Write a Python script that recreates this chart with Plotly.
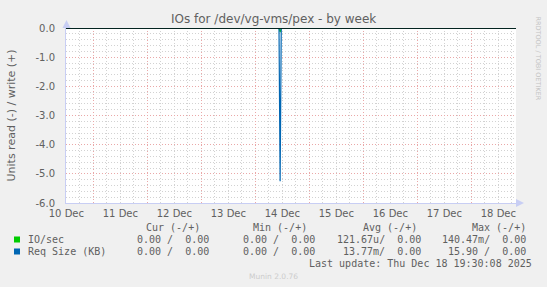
import plotly.graph_objects as go

# ---------------- data ----------------
x_start = "2025-12-10 11:50"
x_end = "2025-12-18 19:50"

read_times = ["2025-12-10 11:50", "2025-12-14 10:30", "2025-12-14 11:00",
              "2025-12-14 11:30", "2025-12-18 19:50"]
io_read = [0.0, 0.0, -0.14, 0.0, 0.0]          # IO/sec (read, negative)
req_read = [0.0, 0.0, -5.25, 0.0, 0.0]         # Req Size KB (read, negative)
write_times = ["2025-12-10 11:50", "2025-12-18 19:50"]
io_write = [0.0, 0.0]
req_write = [0.0, 0.0]

day_label_times = ["2025-12-10 12:00", "2025-12-11 12:00", "2025-12-12 12:00",
                   "2025-12-13 12:00", "2025-12-14 12:00", "2025-12-15 12:00",
                   "2025-12-16 12:00", "2025-12-17 12:00", "2025-12-18 12:00"]
day_labels = ["10 Dec", "11 Dec", "12 Dec", "13 Dec", "14 Dec", "15 Dec",
              "16 Dec", "17 Dec", "18 Dec"]
y_tickvals = [0, -1, -2, -3, -4, -5, -6]
y_ticktext = ["0.0", "-1.0", "-2.0", "-3.0", "-4.0", "-5.0", "-6.0"]

series_names = ["IO/sec", "Req Size (KB)"]
series_colors = ["#00CC00", "#0066B3"]
cur_vals = ["0.00 /  0.00", "0.00 /  0.00"]
min_vals = ["0.00 /  0.00", "0.00 /  0.00"]
avg_vals = ["121.67u/  0.00", "13.77m/  0.00"]
max_vals = ["140.47m/  0.00", "15.90 /  0.00"]
col_headers = ["Cur (-/+)", "Min (-/+)", "Avg (-/+)", "Max (-/+)"]
last_update = "Last update: Thu Dec 18 19:30:08 2025"

# ---------------- layout geometry ----------------
W_IMG, H_IMG = 547, 287
L, T, PW, PH = 66, 28, 450, 175
R = W_IMG - L - PW
B = H_IMG - T - PH

def px_x(p):
    return (p - L) / PW

def px_y(p):
    return (T + PH - p) / PH

def nb(s):
    return s.replace(" ", "\u00a0")

FONT_C = "#606060"
AXIS_C = "#C8CEF4"
MGRID = "#EAA8A8"
GRID = "#D2D2D2"
DASH = "1px,2px"

fig = go.Figure()

fig.add_trace(go.Scatter(x=write_times, y=io_write, mode="lines",
                         line=dict(color=series_colors[0], width=1), showlegend=False, hoverinfo="skip"))
fig.add_trace(go.Scatter(x=write_times, y=req_write, mode="lines",
                         line=dict(color=series_colors[1], width=1), showlegend=False, hoverinfo="skip"))
fig.add_trace(go.Scatter(x=read_times, y=io_read, mode="lines",
                         line=dict(color=series_colors[0], width=1.2), showlegend=False, hoverinfo="skip"))
fig.add_trace(go.Scatter(x=read_times, y=req_read, mode="lines",
                         line=dict(color=series_colors[1], width=1.2), showlegend=False, hoverinfo="skip"))
# invisible trace on the label axis
fig.add_trace(go.Scatter(x=[x_start], y=[0], xaxis="x2", mode="markers",
                         marker=dict(opacity=0), showlegend=False, hoverinfo="skip"))

fig.update_layout(
    width=W_IMG, height=H_IMG,
    margin=dict(l=L, r=R, t=T, b=B, pad=0),
    paper_bgcolor="#F0F0F0", plot_bgcolor="#FFFFFF",
    font=dict(family="DejaVu Sans", color=FONT_C, size=10),
    showlegend=False,
    xaxis=dict(type="date", range=[x_start, x_end],
               tick0="2025-12-10 00:00", dtick=86400000,
               showticklabels=False, ticks="",
               showgrid=True, gridcolor=MGRID, griddash=DASH, gridwidth=1,
               minor=dict(dtick=6 * 3600000, tick0="2025-12-10 00:00",
                          showgrid=True, gridcolor=GRID, griddash=DASH, gridwidth=1),
               showline=True, linecolor=AXIS_C, linewidth=1,
               zeroline=False, fixedrange=True),
    xaxis2=dict(type="date", overlaying="x", matches="x", side="bottom",
                tickmode="array", tickvals=day_label_times, ticktext=day_labels,
                ticks="", ticklabelstandoff=3, showgrid=False, showline=False,
                zeroline=False, tickfont=dict(size=10, color=FONT_C)),
    yaxis=dict(range=[-6, 0], tickmode="array", tickvals=y_tickvals, ticktext=y_ticktext,
               ticks="", ticklabelstandoff=8, tickfont=dict(size=10, color=FONT_C),
               showgrid=True, gridcolor=MGRID, griddash=DASH, gridwidth=1,
               minor=dict(dtick=0.2, tick0=0, showgrid=True, gridcolor=GRID,
                          griddash=DASH, gridwidth=1),
               showline=True, linecolor=AXIS_C, linewidth=1,
               zeroline=False, fixedrange=True),
)

shapes = []
# black zero rule
shapes.append(dict(type="line", xref="paper", yref="y", x0=0, x1=1, y0=0, y1=0,
                   line=dict(color="#000000", width=1.5), layer="above"))
# axis arrows
shapes.append(dict(type="path", xref="paper", yref="paper",
                   path=f"M {px_x(62.5)} {px_y(28)} L {px_x(70.5)} {px_y(28)} L {px_x(66.5)} {px_y(20)} Z",
                   fillcolor=AXIS_C, line=dict(width=0)))
shapes.append(dict(type="path", xref="paper", yref="paper",
                   path=f"M {px_x(516)} {px_y(199)} L {px_x(516)} {px_y(207)} L {px_x(524)} {px_y(203)} Z",
                   fillcolor=AXIS_C, line=dict(width=0)))
# legend squares
for i, c in enumerate(series_colors):
    yc = 239.5 + 12 * i
    shapes.append(dict(type="rect", xref="paper", yref="paper",
                       x0=px_x(14), x1=px_x(20), y0=px_y(yc - 3), y1=px_y(yc + 3),
                       fillcolor=c, line=dict(width=0)))
fig.update_layout(shapes=shapes)

ann = []
ann.append(dict(text="IOs for /dev/vg-vms/pex - by week", x=px_x(273.5), y=px_y(19),
                xref="paper", yref="paper", xanchor="center", yanchor="middle",
                showarrow=False, font=dict(size=12, color=FONT_C, family="DejaVu Sans")))
ann.append(dict(text="Units read (-) / write (+)", x=px_x(11), y=px_y(115.5),
                xref="paper", yref="paper", xanchor="center", yanchor="middle",
                textangle=-90, showarrow=False,
                font=dict(size=11, color=FONT_C, family="DejaVu Sans")))
ann.append(dict(text="RRDTOOL / TOBI OETIKER", x=px_x(537.5), y=px_y(58),
                xref="paper", yref="paper", xanchor="center", yanchor="middle",
                textangle=90, showarrow=False,
                font=dict(size=6.5, color="#C4C4C4", family="DejaVu Sans")))
ann.append(dict(text="Munin 2.0.76", x=px_x(273), y=px_y(276.5),
                xref="paper", yref="paper", xanchor="center", yanchor="middle",
                showarrow=False, font=dict(size=7.5, color="#CCCCCC", family="DejaVu Sans")))

mono = dict(family="DejaVu Sans Mono", size=10, color=FONT_C)

def txt(s, xp, yp, anchor):
    ann.append(dict(text=nb(s), x=px_x(xp), y=px_y(yp), xref="paper", yref="paper",
                    xanchor=anchor, yanchor="middle", showarrow=False, font=mono, borderpad=0))

hdr_right = [200.5, 308, 418, 526.5]
for h, xr in zip(col_headers, hdr_right):
    txt(h, xr, 227, "right")

val_right = [209.5, 315.5, 421.5, 527]
for i, name in enumerate(series_names):
    yr = 239.5 + 12 * i
    txt(name, 26.5, yr, "left")
    for vals, xr in zip([cur_vals, min_vals, avg_vals, max_vals], val_right):
        txt(vals[i], xr, yr, "right")

txt(last_update, 533, 263, "right")

fig.update_layout(annotations=ann)

fig.write_html("out.html")
